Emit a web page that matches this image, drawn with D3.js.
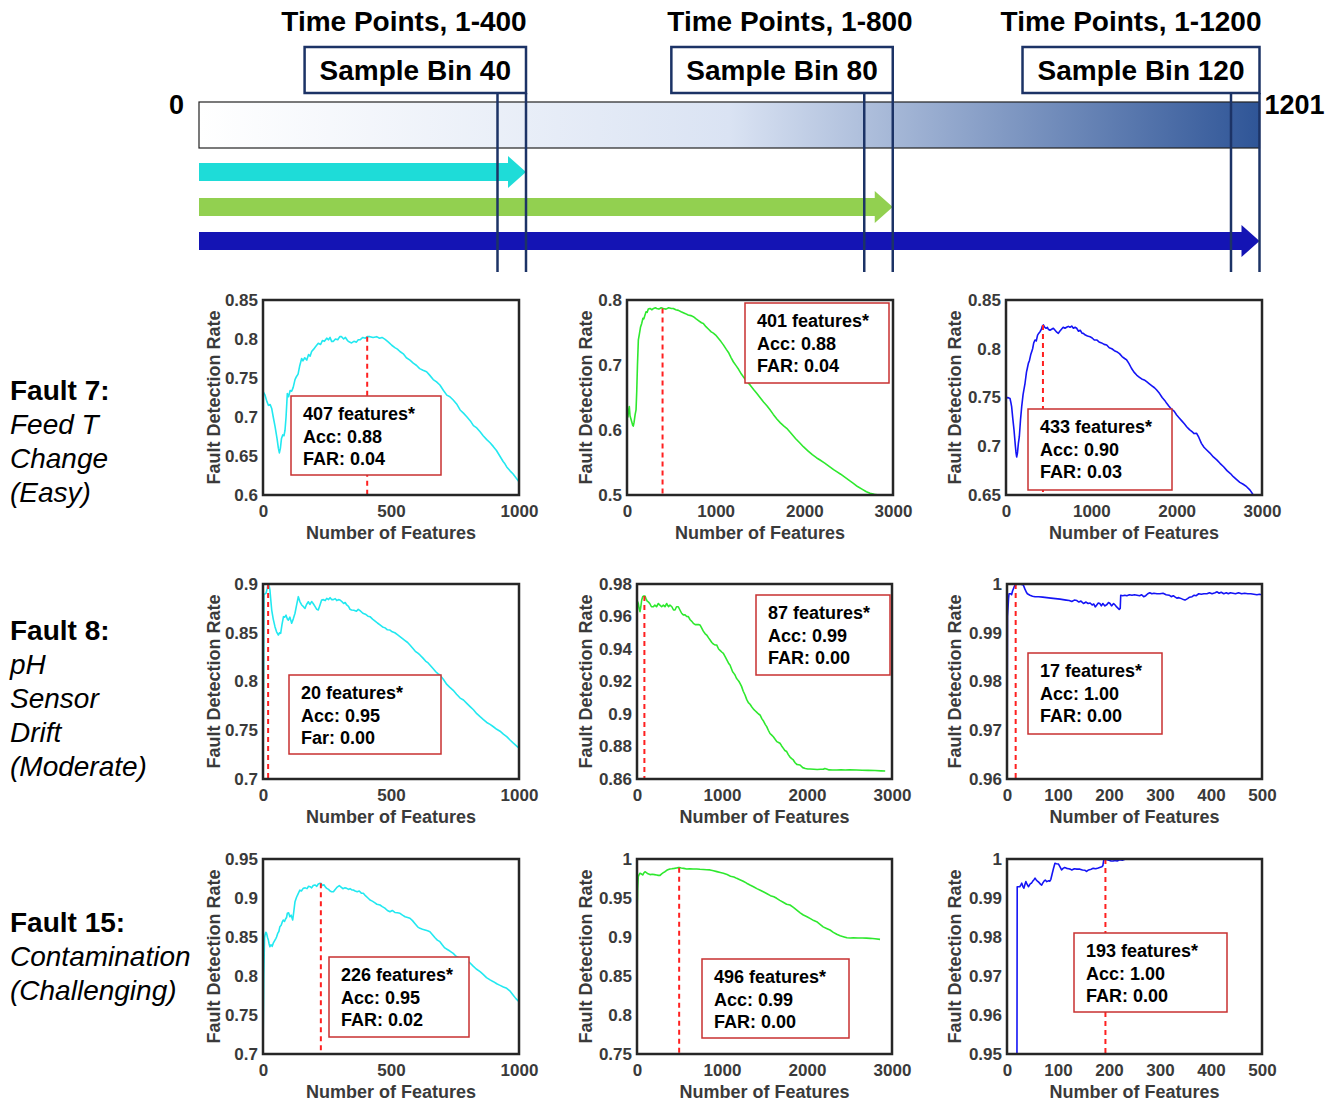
<!DOCTYPE html>
<html><head><meta charset="utf-8">
<script src="https://cdn.jsdelivr.net/npm/d3@7"></script>
<style>body{margin:0;background:#fff}svg{display:block}</style>
</head><body>
<svg id="chart" width="1340" height="1103"></svg>
<script>
// ---------------- DATA ----------------
const timeEnds = [400, 800, 1200];
const timeTitles = ["Time Points, 1-400", "Time Points, 1-800", "Time Points, 1-1200"];
const binLabels = ["Sample Bin 40", "Sample Bin 80", "Sample Bin 120"];
const timeStartLabel = "0";
const timeEndLabel = "1201";

const faultTitles = ["Fault 7:", "Fault 8:", "Fault 15:"];
const faultDescriptions = [
  ["Feed T", "Change", "(Easy)"],
  ["pH", "Sensor", "Drift", "(Moderate)"],
  ["Contamination", "(Challenging)"]
];

const xDomains = [[0,1000],[0,3000],[0,3000],[0,1000],[0,3000],[0,500],[0,1000],[0,3000],[0,500]];
const yDomains = [[0.6,0.85],[0.5,0.8],[0.65,0.85],[0.7,0.9],[0.86,0.98],[0.96,1],[0.7,0.95],[0.75,1],[0.95,1]];
const xTicks = [[0,500,1000],[0,1000,2000,3000],[0,1000,2000,3000],[0,500,1000],[0,1000,2000,3000],[0,100,200,300,400,500],[0,500,1000],[0,1000,2000,3000],[0,100,200,300,400,500]];
const yTicks = [
  [0.6,0.65,0.7,0.75,0.8,0.85],
  [0.5,0.6,0.7,0.8],
  [0.65,0.7,0.75,0.8,0.85],
  [0.7,0.75,0.8,0.85,0.9],
  [0.86,0.88,0.9,0.92,0.94,0.96,0.98],
  [0.96,0.97,0.98,0.99,1],
  [0.7,0.75,0.8,0.85,0.9,0.95],
  [0.75,0.8,0.85,0.9,0.95,1],
  [0.95,0.96,0.97,0.98,0.99,1]
];
const optFeatures = [407, 401, 433, 20, 87, 17, 226, 496, 193];
const optFDR = [0.803, 0.787, 0.8244, 0.90, 0.9726, 1.0, 0.9188, 0.9889, 1.0];
const accValues = ["0.88","0.88","0.90","0.95","0.99","1.00","0.95","0.99","1.00"];
const farValues = ["0.04","0.04","0.03","0.00","0.00","0.00","0.02","0.00","0.00"];
const farLabels = ["FAR","FAR","FAR","Far","FAR","FAR","FAR","FAR","FAR"];
const xTitle = "Number of Features";
const yTitle = "Fault Detection Rate";

const curveF7B40 = [[0,0.733],[8,0.728],[15,0.72],[21,0.715],[28,0.716],[34,0.711],[40,0.700],[47,0.688],[55,0.672],[60,0.660],[64,0.654],[68,0.66],[72,0.672],[77,0.677],[82,0.676],[86,0.683],[90,0.700],[95,0.730],[100,0.726],[106,0.734],[112,0.733],[118,0.738],[125,0.748],[131,0.752],[137,0.755],[143,0.765],[151,0.775],[156,0.772],[163,0.776],[171,0.773],[178,0.78],[184,0.778],[190,0.784],[198,0.787],[205,0.79],[216,0.7945],[225,0.793],[232,0.798],[240,0.797],[249,0.801],[256,0.799],[262,0.802],[268,0.797],[275,0.797],[283,0.80],[292,0.799],[300,0.803],[307,0.803],[315,0.8],[322,0.802],[330,0.798],[338,0.796],[346,0.795],[355,0.797],[365,0.796],[372,0.799],[379,0.799],[390,0.802],[400,0.801],[407,0.803],[418,0.803],[430,0.802],[444,0.803],[455,0.801],[465,0.802],[477,0.7996],[490,0.796],[503,0.792],[515,0.789],[525,0.787],[535,0.784],[548,0.781],[560,0.776],[574,0.773],[587,0.769],[600,0.766],[612,0.762],[625,0.76],[639,0.758],[650,0.754],[665,0.748],[678,0.745],[691,0.741],[705,0.734],[718,0.728],[730,0.726],[743,0.7218],[758,0.716],[770,0.709],[783,0.705],[796,0.7004],[810,0.695],[822,0.689],[835,0.686],[848,0.681],[860,0.676],[874,0.671],[887,0.667],[900,0.662],[912,0.657],[925,0.650],[938,0.643],[945,0.640],[952,0.636],[965,0.631],[977,0.627],[988,0.622],[1000,0.617]];
const curveF7B80 = [[0,0.626],[10,0.62],[18,0.63],[26,0.636],[34,0.622],[42,0.618],[55,0.612],[65,0.607],[71,0.606],[80,0.612],[92,0.624],[102,0.631],[110,0.66],[118,0.7],[128,0.7385],[140,0.748],[152,0.758],[166,0.764],[180,0.772],[190,0.771],[203,0.777],[215,0.782],[228,0.781],[240,0.786],[260,0.787],[280,0.785],[300,0.787],[320,0.788],[335,0.787],[360,0.786],[385,0.788],[410,0.787],[440,0.786],[470,0.788],[500,0.787],[522,0.787],[550,0.785],[580,0.784],[610,0.782],[635,0.7805],[660,0.779],[690,0.777],[720,0.776],[748,0.7744],[780,0.771],[810,0.768],[840,0.765],[861,0.764],[890,0.759],[920,0.755],[950,0.751],[974,0.749],[1000,0.746],[1030,0.741],[1060,0.736],[1087,0.731],[1120,0.724],[1150,0.718],[1175,0.711],[1199,0.705],[1230,0.699],[1260,0.693],[1290,0.686],[1312,0.682],[1350,0.675],[1390,0.669],[1430,0.662],[1463,0.6565],[1500,0.650],[1540,0.643],[1580,0.637],[1613,0.631],[1650,0.624],[1690,0.617],[1730,0.611],[1770,0.606],[1801,0.6026],[1850,0.595],[1900,0.587],[1950,0.58],[1989,0.5743],[2040,0.568],[2090,0.562],[2140,0.557],[2177,0.5538],[2230,0.549],[2280,0.544],[2330,0.539],[2365,0.5359],[2410,0.532],[2460,0.527],[2510,0.522],[2553,0.518],[2600,0.513],[2650,0.509],[2700,0.505],[2741,0.5026],[2790,0.501],[2835,0.5]];
const curveF7B120 = [[0,0.749],[20,0.75],[47,0.749],[57,0.745],[66,0.7406],[80,0.728],[94,0.7167],[110,0.700],[118,0.693],[125,0.689],[134,0.693],[145,0.703],[156,0.7098],[170,0.727],[184,0.7406],[200,0.753],[210,0.758],[223,0.7646],[240,0.776],[250,0.78],[262,0.785],[275,0.788],[290,0.794],[301,0.797],[312,0.80],[325,0.806],[340,0.809],[355,0.808],[370,0.814],[385,0.816],[399,0.8175],[415,0.82],[425,0.823],[438,0.8244],[455,0.822],[470,0.821],[485,0.822],[496,0.82],[515,0.819],[535,0.82],[555,0.821],[575,0.819],[595,0.817],[613,0.8158],[630,0.818],[650,0.82],[670,0.822],[691,0.821],[710,0.822],[730,0.823],[750,0.822],[770,0.8233],[790,0.821],[810,0.822],[828,0.821],[850,0.818],[870,0.819],[890,0.816],[906,0.8158],[930,0.814],[955,0.813],[984,0.8124],[1010,0.811],[1035,0.809],[1063,0.809],[1090,0.807],[1120,0.806],[1150,0.8045],[1180,0.8038],[1210,0.801],[1240,0.80],[1270,0.798],[1297,0.797],[1330,0.795],[1360,0.792],[1390,0.79],[1414,0.7885],[1440,0.785],[1470,0.78],[1500,0.776],[1531,0.773],[1560,0.771],[1590,0.769],[1620,0.768],[1648,0.7662],[1680,0.764],[1710,0.762],[1740,0.76],[1766,0.7577],[1800,0.754],[1830,0.75],[1860,0.747],[1883,0.744],[1910,0.741],[1940,0.738],[1970,0.736],[2000,0.732],[2030,0.729],[2060,0.726],[2090,0.723],[2117,0.72],[2150,0.717],[2180,0.715],[2205,0.713],[2234,0.7133],[2260,0.709],[2290,0.703],[2320,0.699],[2352,0.6962],[2390,0.693],[2430,0.689],[2470,0.686],[2508,0.6825],[2550,0.679],[2590,0.675],[2630,0.672],[2664,0.6688],[2700,0.666],[2740,0.663],[2780,0.661],[2820,0.6585],[2860,0.655],[2898,0.65]];
const curveF8B40 = [[0,0.70],[2,0.78],[4,0.889],[8,0.89],[12,0.8905],[16,0.895],[20,0.9],[24,0.898],[27,0.894],[31,0.882],[34,0.8733],[40,0.864],[47,0.856],[53,0.851],[60,0.8477],[65,0.85],[69,0.8494],[74,0.858],[80,0.8665],[85,0.866],[90,0.868],[95,0.864],[99,0.863],[105,0.866],[112,0.8597],[118,0.864],[125,0.870],[131,0.878],[138,0.887],[144,0.882],[151,0.8785],[157,0.877],[164,0.875],[170,0.879],[177,0.8818],[183,0.879],[190,0.882],[196,0.880],[203,0.877],[210,0.874],[216,0.8733],[222,0.878],[229,0.8836],[236,0.884],[243,0.883],[249,0.8853],[256,0.884],[262,0.886],[268,0.884],[275,0.884],[282,0.885],[288,0.883],[295,0.884],[301,0.8836],[308,0.882],[315,0.88],[321,0.881],[327,0.8785],[334,0.877],[340,0.874],[346,0.8733],[355,0.873],[365,0.872],[372,0.874],[379,0.8726],[390,0.87],[400,0.869],[410,0.867],[418,0.8665],[428,0.864],[438,0.862],[447,0.86],[457,0.858],[467,0.856],[477,0.855],[486,0.853],[496,0.8528],[505,0.851],[515,0.85],[525,0.848],[535,0.846],[545,0.844],[555,0.842],[565,0.84],[574,0.8374],[585,0.834],[595,0.831],[605,0.829],[613,0.8272],[625,0.824],[635,0.821],[645,0.819],[652,0.8169],[665,0.813],[675,0.81],[683,0.808],[691,0.8067],[705,0.802],[718,0.797],[730,0.794],[743,0.791],[756,0.787],[770,0.783],[783,0.781],[796,0.7776],[810,0.774],[822,0.771],[835,0.767],[848,0.7639],[861,0.761],[874,0.758],[887,0.756],[900,0.7536],[913,0.751],[926,0.749],[939,0.746],[952,0.7434],[965,0.74],[977,0.737],[990,0.734],[1000,0.7315]];
const curveF8B80 = [[0,0.934],[2,0.968],[8,0.969],[15,0.968],[25,0.965],[35,0.963],[45,0.966],[55,0.970],[67,0.9722],[80,0.9726],[94,0.9726],[105,0.971],[120,0.9695],[133,0.969],[150,0.968],[170,0.966],[192,0.966],[210,0.967],[230,0.966],[251,0.968],[270,0.967],[290,0.966],[310,0.967],[329,0.966],[350,0.968],[370,0.966],[388,0.967],[410,0.966],[430,0.964],[447,0.964],[465,0.966],[486,0.966],[505,0.964],[525,0.962],[545,0.961],[565,0.961],[585,0.960],[604,0.9599],[625,0.958],[645,0.957],[663,0.9558],[685,0.955],[705,0.955],[725,0.955],[741,0.9548],[760,0.953],[780,0.951],[800,0.9495],[820,0.9486],[840,0.947],[860,0.9455],[880,0.944],[900,0.943],[920,0.9425],[937,0.9425],[960,0.94],[980,0.939],[1000,0.938],[1016,0.9373],[1040,0.935],[1060,0.933],[1080,0.931],[1094,0.9302],[1110,0.928],[1125,0.926],[1140,0.925],[1153,0.924],[1170,0.922],[1185,0.921],[1200,0.92],[1212,0.9189],[1230,0.917],[1250,0.914],[1271,0.9117],[1290,0.909],[1310,0.907],[1330,0.906],[1349,0.9045],[1370,0.903],[1390,0.902],[1410,0.901],[1430,0.9],[1447,0.8994],[1470,0.897],[1490,0.8955],[1510,0.8935],[1526,0.8922],[1545,0.890],[1565,0.888],[1585,0.887],[1604,0.886],[1625,0.8845],[1645,0.883],[1665,0.8825],[1682,0.882],[1700,0.8805],[1720,0.879],[1740,0.8775],[1761,0.8769],[1780,0.875],[1800,0.8735],[1820,0.8725],[1839,0.8717],[1860,0.870],[1880,0.869],[1900,0.8688],[1918,0.8686],[1950,0.867],[1980,0.8665],[2010,0.8662],[2035,0.8662],[2080,0.866],[2120,0.8658],[2160,0.866],[2192,0.866],[2210,0.8665],[2230,0.8662],[2260,0.8656],[2300,0.8655],[2349,0.8655],[2400,0.8656],[2450,0.8655],[2500,0.8656],[2584,0.8655],[2650,0.8654],[2720,0.8653],[2800,0.8652],[2870,0.865],[2920,0.8649]];
const curveF8B120 = [[0,0.9629],[1,0.9933],[3,0.997],[4,0.998],[7,0.998],[9,0.9978],[11,0.9986],[14,0.9994],[16,0.9998],[20,1.0],[26,1.0],[29,0.9999],[32,0.9998],[35,0.999],[38,0.9983],[40,0.998],[45,0.9977],[50,0.9975],[55,0.9974],[62,0.9974],[70,0.9973],[78,0.9972],[86,0.9971],[95,0.997],[104,0.9969],[110,0.9968],[116,0.9967],[122,0.9966],[127,0.9964],[132,0.9967],[137,0.9966],[141,0.9963],[145,0.9965],[150,0.996],[155,0.9963],[159,0.996],[163,0.9961],[167,0.9957],[170,0.9959],[173,0.9953],[176,0.9957],[179,0.9961],[182,0.996],[185,0.9955],[188,0.996],[192,0.9955],[196,0.9958],[199,0.9962],[202,0.996],[205,0.9955],[209,0.996],[212,0.9957],[215,0.9953],[218,0.995],[220,0.9948],[222,0.995],[223,0.9977],[227,0.9976],[231,0.9977],[235,0.9976],[240,0.9978],[245,0.9977],[250,0.9978],[255,0.9977],[260,0.9976],[264,0.9978],[268,0.9974],[272,0.9976],[276,0.998],[280,0.9982],[284,0.998],[288,0.9981],[294,0.998],[300,0.998],[306,0.9981],[312,0.9978],[318,0.9977],[322,0.9974],[326,0.9976],[330,0.9973],[333,0.9971],[337,0.9972],[342,0.997],[346,0.9968],[349,0.9967],[354,0.997],[358,0.9973],[363,0.9974],[367,0.9977],[371,0.9976],[376,0.998],[381,0.9979],[386,0.998],[392,0.998],[397,0.9982],[402,0.998],[408,0.9982],[412,0.9984],[416,0.9981],[420,0.9983],[425,0.998],[430,0.9982],[434,0.998],[438,0.9982],[443,0.9981],[448,0.998],[454,0.9982],[460,0.998],[466,0.9981],[472,0.998],[478,0.998],[484,0.9979],[490,0.9978],[495,0.9979],[499,0.9978]];
const curveF15B40 = [[0,0.703],[3,0.80],[6,0.849],[8,0.8526],[11,0.856],[14,0.8547],[18,0.849],[21,0.846],[24,0.841],[27,0.8376],[31,0.84],[36,0.838],[40,0.842],[45,0.845],[50,0.848],[53,0.85],[58,0.855],[62,0.857],[66,0.8632],[71,0.865],[75,0.869],[79,0.8718],[84,0.87],[88,0.873],[92,0.875],[95,0.8804],[100,0.881],[105,0.876],[110,0.878],[116,0.8718],[120,0.882],[125,0.8953],[131,0.901],[138,0.906],[144,0.91],[150,0.909],[157,0.9124],[165,0.913],[172,0.912],[178,0.915],[184,0.9145],[190,0.913],[196,0.916],[203,0.9167],[210,0.915],[216,0.918],[223,0.9188],[226,0.919],[232,0.916],[238,0.917],[244,0.914],[249,0.9124],[256,0.911],[262,0.909],[268,0.908],[275,0.908],[282,0.911],[290,0.914],[298,0.9158],[305,0.914],[312,0.912],[320,0.913],[327,0.9124],[334,0.911],[340,0.912],[347,0.9103],[353,0.9103],[360,0.909],[368,0.908],[376,0.909],[385,0.906],[392,0.906],[400,0.903],[410,0.9],[418,0.8974],[427,0.896],[436,0.894],[445,0.892],[457,0.891],[466,0.889],[476,0.887],[486,0.884],[496,0.8824],[505,0.884],[515,0.8815],[525,0.881],[535,0.8804],[545,0.878],[555,0.876],[565,0.875],[574,0.874],[584,0.871],[594,0.867],[604,0.863],[613,0.8611],[623,0.86],[633,0.859],[643,0.858],[652,0.8568],[662,0.853],[672,0.849],[681,0.846],[691,0.844],[700,0.84],[710,0.836],[720,0.834],[730,0.832],[743,0.829],[755,0.825],[767,0.823],[780,0.822],[796,0.8205],[808,0.817],[820,0.813],[833,0.809],[848,0.8055],[860,0.802],[873,0.798],[887,0.795],[900,0.7927],[913,0.79],[926,0.788],[939,0.786],[952,0.7842],[964,0.781],[976,0.776],[988,0.771],[1000,0.767]];
const curveF15B80 = [[0,0.7786],[3,0.90],[4,0.941],[8,0.962],[15,0.9773],[25,0.98],[35,0.9817],[50,0.981],[67,0.9795],[80,0.982],[94,0.9837],[110,0.9825],[130,0.981],[153,0.98],[180,0.9805],[205,0.98],[231,0.9795],[250,0.979],[271,0.979],[290,0.981],[310,0.9825],[329,0.9837],[350,0.9855],[370,0.9865],[388,0.9872],[410,0.9875],[440,0.988],[465,0.9885],[486,0.9889],[500,0.989],[520,0.9885],[550,0.988],[584,0.9872],[620,0.9875],[660,0.9872],[702,0.9872],[740,0.9868],[780,0.9866],[820,0.9862],[859,0.986],[900,0.985],[940,0.9838],[980,0.9827],[1016,0.9817],[1060,0.98],[1100,0.978],[1140,0.977],[1173,0.9752],[1210,0.9735],[1250,0.9715],[1290,0.969],[1329,0.9667],[1370,0.9645],[1410,0.962],[1450,0.96],[1486,0.958],[1530,0.9555],[1570,0.953],[1610,0.9515],[1643,0.9496],[1680,0.947],[1720,0.9445],[1760,0.942],[1800,0.941],[1840,0.938],[1880,0.9345],[1920,0.931],[1957,0.9282],[2000,0.926],[2040,0.9235],[2080,0.921],[2114,0.9196],[2150,0.9165],[2190,0.913],[2230,0.911],[2271,0.909],[2310,0.906],[2350,0.9035],[2390,0.9015],[2427,0.9004],[2470,0.899],[2510,0.8988],[2545,0.899],[2600,0.8988],[2650,0.8987],[2700,0.8985],[2741,0.8983],[2800,0.8977],[2859,0.897]];
const curveF15B120 = [[19,0.90],[20,0.9929],[22,0.9929],[25,0.9929],[27,0.9933],[29,0.9938],[31,0.993],[33,0.9925],[35,0.9934],[37,0.9942],[39,0.9936],[42,0.9929],[44,0.9933],[46,0.9937],[48,0.9938],[51,0.9944],[53,0.9947],[55,0.9951],[57,0.9947],[59,0.9944],[61,0.9942],[64,0.9938],[66,0.9935],[68,0.9933],[70,0.9938],[73,0.9944],[75,0.9946],[78,0.9942],[81,0.9944],[84,0.9943],[86,0.9948],[88,0.9959],[91,0.9975],[94,0.9989],[97,0.9988],[101,0.9987],[104,0.998],[107,0.9972],[110,0.9976],[113,0.9978],[117,0.9976],[121,0.9975],[124,0.9974],[127,0.9972],[132,0.9975],[137,0.9974],[143,0.9974],[148,0.9972],[153,0.9971],[156,0.9968],[160,0.9972],[165,0.9974],[169,0.9976],[174,0.9975],[179,0.9977],[183,0.9979],[186,0.998],[188,0.9983],[190,1.0],[193,0.9999],[196,0.9998],[200,0.9997],[204,0.9995],[208,0.99949],[212,0.9996],[216,0.9995],[221,0.9998],[226,0.9997],[230,0.9999],[234,1.0],[260,1.0],[300,1.0],[400,1.0],[500,1.0]];

const curves = [curveF7B40, curveF7B80, curveF7B120, curveF8B40, curveF8B80, curveF8B120, curveF15B40, curveF15B80, curveF15B120];

// ---------------- STYLE / LAYOUT ----------------
const FONT = "'Liberation Sans', Arial, Helvetica, sans-serif";
const binColors = ["#1edcd8", "#92d050", "#1414b4"];
const lineColors = ["#22e8f0", "#2ee82e", "#1414f5"];
const navy = "#1c3366";
const panelRects = [
  {x0:263,x1:519,y0:300,y1:495},{x0:627,x1:893,y0:300,y1:495},{x0:1006,x1:1262,y0:300,y1:495},
  {x0:263,x1:519,y0:584,y1:779},{x0:637,x1:892,y0:584,y1:779},{x0:1007,x1:1262,y0:584,y1:779},
  {x0:263,x1:519,y0:859,y1:1054},{x0:637,x1:892,y0:859,y1:1054},{x0:1007,x1:1262,y0:859,y1:1054}
];
const yTitleX = [214, 586, 955];
const annoBoxes = [
  [291,396,441,475],[745,303,889,383],[1028,409,1172,490],
  [289,675,441,754],[756,595,890,675],[1028,653,1162,734],
  [329,957,469,1037],[702,959,849,1038],[1074,933,1227,1012]
];
const rowLabelTop = [400, 640, 932];
const titleCenters = [404, 790, 1131];

const svg = d3.select("#chart");
const defs = svg.append("defs");

// ---------------- BANNER ----------------
const barX0 = 199, barY0 = 102, barH = 46;
const timeX = d3.scaleLinear().domain([400, 1200]).range([526, 1259.5]);
const grad = defs.append("linearGradient").attr("id","tg").attr("x1","0").attr("x2","1").attr("y1","0").attr("y2","0");
grad.append("stop").attr("offset","0").attr("stop-color","#ffffff");
grad.append("stop").attr("offset","0.5").attr("stop-color","#dae3f3");
grad.append("stop").attr("offset","1").attr("stop-color","#2f5597");

svg.append("rect").attr("x", barX0).attr("y", barY0)
  .attr("width", timeX(1200) - barX0).attr("height", barH)
  .attr("fill","url(#tg)").attr("stroke","#222").attr("stroke-width",1.2);

svg.append("text").attr("x", barX0 - 15).attr("y", barY0 + 12).attr("text-anchor","end")
  .attr("font-family",FONT).attr("font-weight","bold").attr("font-size",27).text(timeStartLabel);
svg.append("text").attr("x", timeX(1200) + 5).attr("y", barY0 + 12).attr("text-anchor","start")
  .attr("font-family",FONT).attr("font-weight","bold").attr("font-size",27).text(timeEndLabel);

// arrows
const arrowY = [172, 207, 241];
timeEnds.forEach((t, i) => {
  const xe = timeX(t), cy = arrowY[i], sh = 9, hh = 16, hl = 18;
  const pts = [[barX0, cy - sh], [xe - hl, cy - sh], [xe - hl, cy - hh], [xe, cy], [xe - hl, cy + hh], [xe - hl, cy + sh], [barX0, cy + sh]];
  svg.append("path").attr("d", d3.line()(pts) + "Z").attr("fill", binColors[i]);
});

// bin boxes, lines and titles
timeEnds.forEach((t, i) => {
  const xr = timeX(t);
  const lbl = svg.append("text").attr("y", 80).attr("font-family",FONT).attr("font-weight","bold")
    .attr("font-size",28).attr("text-anchor","middle").text(binLabels[i]);
  const w = lbl.node().getComputedTextLength();
  const bw = w + 30;
  lbl.attr("x", xr - bw / 2);
  svg.insert("rect", "text").attr("x", xr - bw).attr("y", 47).attr("width", bw).attr("height", 46)
    .attr("fill","#fff").attr("stroke", navy).attr("stroke-width", 2.5);
  [xr - 28.5, xr].forEach(x => {
    svg.append("line").attr("x1", x).attr("x2", x).attr("y1", 93).attr("y2", 272)
      .attr("stroke", navy).attr("stroke-width", 2.5);
  });
  svg.append("text").attr("x", titleCenters[i]).attr("y", 31).attr("text-anchor","middle")
    .attr("font-family",FONT).attr("font-weight","bold").attr("font-size",28).text(timeTitles[i]);
});

// ---------------- ROW LABELS ----------------
faultTitles.forEach((ft, r) => {
  const g = svg.append("text").attr("font-family",FONT).attr("font-size",28).attr("fill","#000");
  g.append("tspan").attr("x",10).attr("y",rowLabelTop[r]).attr("font-weight","bold").text(ft);
  faultDescriptions[r].forEach((d, k) => {
    g.append("tspan").attr("x",10).attr("y",rowLabelTop[r] + 34 * (k + 1)).attr("font-style","italic").text(d);
  });
});

// ---------------- PANELS ----------------
const fmt = d => String(+d.toFixed(3));
panelRects.forEach((p, i) => {
  const col = i % 3;
  const x = d3.scaleLinear().domain(xDomains[i]).range([p.x0, p.x1]);
  const y = d3.scaleLinear().domain(yDomains[i]).range([p.y1, p.y0]);
  const cid = "clip" + i;
  defs.append("clipPath").attr("id", cid).append("rect")
    .attr("x", p.x0).attr("y", p.y0).attr("width", p.x1 - p.x0).attr("height", p.y1 - p.y0);

  const g = svg.append("g");
  // curve
  g.append("path").datum(curves[i]).attr("clip-path", `url(#${cid})`)
    .attr("d", d3.line().x(d => x(d[0])).y(d => y(d[1])))
    .attr("fill","none").attr("stroke", lineColors[col]).attr("stroke-width",1.6).attr("stroke-linejoin","round");
  // optimum dashed line
  g.append("line").attr("x1", x(optFeatures[i])).attr("x2", x(optFeatures[i]))
    .attr("y1", y(optFDR[i])).attr("y2", y(yDomains[i][0]))
    .attr("stroke","#ff2020").attr("stroke-width",2).attr("stroke-dasharray","5,4");

  // axes
  const ax = g.append("g").attr("transform", `translate(0,${p.y1})`)
    .call(d3.axisBottom(x).tickValues(xTicks[i]).tickSize(0).tickPadding(10).tickFormat(d3.format("d")));
  const ay = g.append("g").attr("transform", `translate(${p.x0},0)`)
    .call(d3.axisLeft(y).tickValues(yTicks[i]).tickSize(0).tickPadding(5).tickFormat(fmt));
  [ax, ay].forEach(a => {
    a.select(".domain").remove();
    a.selectAll("text").attr("font-family",FONT).attr("font-weight","bold").attr("font-size",17).attr("fill","#3a3a3a");
  });

  // frame
  g.append("rect").attr("x", p.x0).attr("y", p.y0).attr("width", p.x1 - p.x0).attr("height", p.y1 - p.y0)
    .attr("fill","none").attr("stroke","#262626").attr("stroke-width",2.5);

  // titles
  g.append("text").attr("x", (p.x0 + p.x1) / 2).attr("y", p.y1 + 44).attr("text-anchor","middle")
    .attr("font-family",FONT).attr("font-weight","bold").attr("font-size",18).attr("fill","#3a3a3a").text(xTitle);
  const ty = (p.y0 + p.y1) / 2;
  g.append("text").attr("transform", `translate(${yTitleX[col] + 6},${ty}) rotate(-90)`).attr("text-anchor","middle")
    .attr("font-family",FONT).attr("font-weight","bold").attr("font-size",18).attr("fill","#3a3a3a").text(yTitle);

  // annotation box
  const [bx0, by0, bx1, by1] = annoBoxes[i];
  g.append("rect").attr("x", bx0).attr("y", by0).attr("width", bx1 - bx0).attr("height", by1 - by0)
    .attr("fill","#fff").attr("stroke","#c83030").attr("stroke-width",1.5);
  const lines = [`${optFeatures[i]} features*`, `Acc: ${accValues[i]}`, `${farLabels[i]}: ${farValues[i]}`];
  lines.forEach((t, k) => {
    g.append("text").attr("x", bx0 + 12).attr("y", by0 + 24 + 22.5 * k)
      .attr("font-family",FONT).attr("font-weight","bold").attr("font-size",18).attr("fill","#000").text(t);
  });
});
</script>
</body></html>
